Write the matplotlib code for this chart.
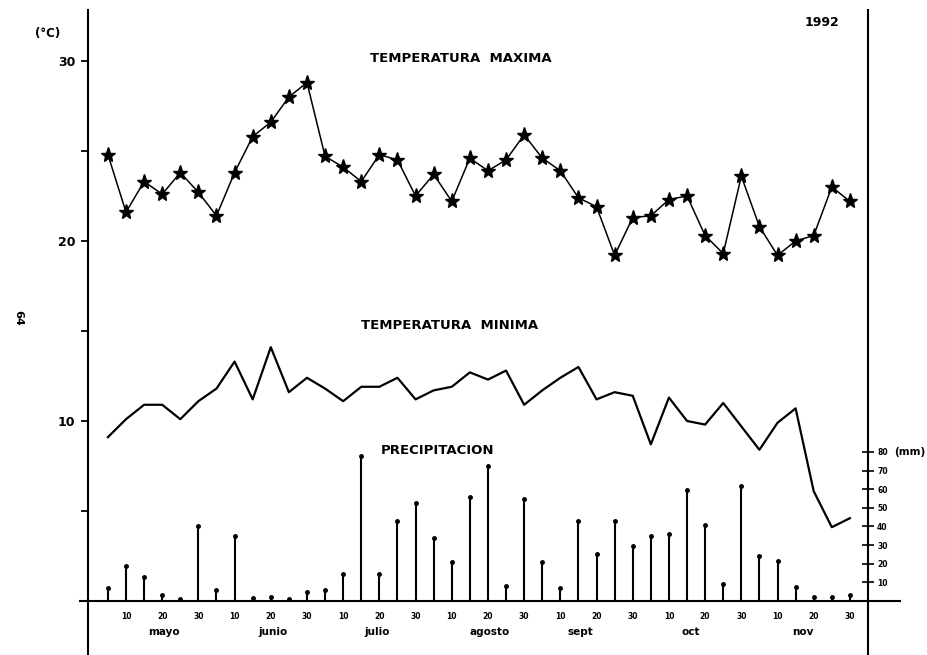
import numpy as np
import matplotlib
matplotlib.use("Agg")
import matplotlib.pyplot as plt

# pentadas (5 dias) desde el 5 de mayo hasta el 30 de noviembre de 1992
pentadas = np.arange(1, 43)

temp_max = [24.8, 21.6, 23.3, 22.6, 23.8, 22.7, 21.4, 23.8, 25.8, 26.6,
            28.0, 28.8, 24.7, 24.1, 23.3, 24.8, 24.5, 22.5, 23.7, 22.2,
            24.6, 23.9, 24.5, 25.9, 24.6, 23.9, 22.4, 21.9, 19.2, 21.3,
            21.4, 22.3, 22.5, 20.3, 19.3, 23.6, 20.8, 19.2, 20.0, 20.3,
            23.0, 22.2]

temp_min = [9.1, 10.1, 10.9, 10.9, 10.1, 11.1, 11.8, 13.3, 11.2, 14.1,
            11.6, 12.4, 11.8, 11.1, 11.9, 11.9, 12.4, 11.2, 11.7, 11.9,
            12.7, 12.3, 12.8, 10.9, 11.7, 12.4, 13.0, 11.2, 11.6, 11.4,
            8.7, 11.3, 10.0, 9.8, 11.0, 9.7, 8.4, 9.9, 10.7, 6.1,
            4.1, 4.6]

precip = [7, 19, 13, 3, 1, 40, 6, 35, 1.5, 2,
          1, 5, 6, 14.5, 78, 14.5, 43, 52.5, 34, 21,
          56, 72.5, 8, 55, 21, 7, 43, 25, 43, 29.5,
          35, 36, 59.5, 41, 9, 62, 24, 21.5, 7.5, 2,
          2, 3]

dia_ticks = ["10", "20", "30"] * 7
meses = ["mayo", "junio", "julio", "agosto", "sept", "oct", "nov"]
mes_pos = [4.1, 10.1, 15.9, 22.1, 27.1, 33.2, 39.4]

W, H = 927, 655
fig = plt.figure(figsize=(W / 100, H / 100), dpi=100)
ax = fig.add_axes([88 / W, 0, 780 / W, 645 / H])

ax.set_xlim(-0.1, 43.0)
ax.set_ylim(-3.0, 32.83)

# temperatura maxima
ax.plot(pentadas, temp_max, color="k", lw=1.1, marker="*", ms=11,
        markerfacecolor="k", markeredgecolor="k")
# temperatura minima
ax.plot(pentadas, temp_min, color="k", lw=1.6)

# linea base
ax.axhline(0, xmin=-8 / 780, xmax=812 / 780, color="k", lw=1.5, clip_on=False)

for s in ["top", "right"]:
    ax.spines[s].set_visible(False)
ax.spines["left"].set_linewidth(1.5)
ax.spines["bottom"].set_position(("data", 0))
ax.spines["bottom"].set_visible(False)

ax.set_yticks([10, 20, 30])
ax.set_yticklabels(["10", "20", "30"], fontweight="bold", fontsize=9)
ax.set_yticks([5, 15, 25], minor=True)
ax.tick_params(axis="y", which="both", direction="out", length=5, width=1.3, pad=4)

ax.set_xticks(pentadas[1::2])
ax.set_xticklabels(dia_ticks, fontweight="bold", fontsize=5.5)
ax.tick_params(axis="x", length=0, pad=8)

for x, m in zip(mes_pos, meses):
    ax.text(x, -1.72, m, ha="center", va="center", fontsize=7.5, fontweight="bold")

# precipitacion en eje secundario
ax2 = ax.twinx()
ax2.set_ylim(-29.0, 317.3)
ax2.vlines(pentadas, 0, precip, color="k", lw=1.5)
ax2.plot(pentadas, precip, "o", color="k", ms=2.5)
for s in ["top", "left", "bottom"]:
    ax2.spines[s].set_visible(False)
ax2.spines["right"].set_linewidth(1.5)
ax2.set_yticks(range(10, 90, 10))
ax2.set_yticklabels([str(v) for v in range(10, 90, 10)], fontweight="bold", fontsize=5.5)
ax2.tick_params(axis="y", direction="inout", length=9, width=1.2, pad=2)

def ftext(x, y, s, **kw):
    fig.text(x / W, 1 - y / H, s, ha="center", va="center", fontweight="bold", **kw)

ftext(461, 58, "TEMPERATURA  MAXIMA", fontsize=9.5)
ftext(450, 325, "TEMPERATURA  MINIMA", fontsize=9.5)
ftext(438, 451, "PRECIPITACION", fontsize=9.5)
ftext(822, 22, "1992", fontsize=9)
ftext(48, 33, "(°C)", fontsize=8.5)
ftext(910, 452, "(mm)", fontsize=7.5)
ftext(18, 318, "64", fontsize=8, rotation=270)

fig.savefig("out.png", dpi=100)
